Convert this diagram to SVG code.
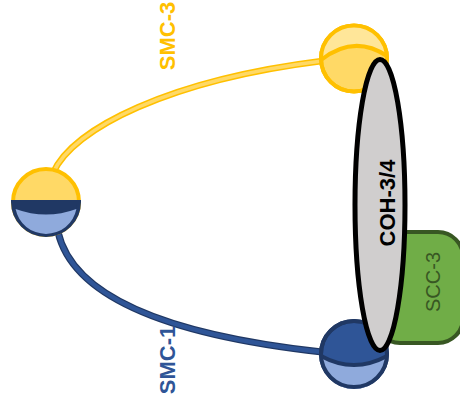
<svg xmlns="http://www.w3.org/2000/svg" width="460" height="407" viewBox="0 0 460 407">
<style>
.lbl{font-family:"Liberation Sans",Arial,sans-serif;font-weight:bold;font-size:22px;text-anchor:middle}
.ylw{fill:#FFD966;stroke:#FFC000;stroke-width:4}
.nav{stroke:#203864;stroke-width:4}
.lb{fill:#8FAADC}
</style>
<rect width="460" height="407" fill="#FFFFFF"/>
<g id="connectors" fill="none" stroke-linecap="round">
  <path d="M53,173 C73,128 170,80 322,61" stroke="#FFC000" stroke-width="6.5"/>
  <path d="M53,173 C73,128 170,80 322,61" stroke="#FFD966" stroke-width="3.5"/>
  <path d="M58,232 C72,293 158,334 322,352" stroke="#203864" stroke-width="7"/>
  <path d="M58,232 C72,293 158,334 322,352" stroke="#2F5597" stroke-width="4.5"/>
</g>
<g id="smc3-head">
  <circle cx="354" cy="58.5" r="33" class="ylw"/>
  <path d="M321,60 Q354,34 387,56 A33,33 0 0 0 321,60 Z" fill="#FFE699"/>
  <path d="M321,60 Q354,34 387,56" fill="none" stroke="#FFC000" stroke-width="4"/>
  <circle cx="354" cy="58.5" r="33" fill="none" stroke="#FFC000" stroke-width="4"/>
</g>
<g id="hinge">
  <circle cx="46" cy="202" r="33" class="ylw"/>
  <path d="M13,202 A33,33 0 0 0 79,202 Z" fill="#203864" class="nav"/>
  <path d="M15.6,209 Q46,220 76.4,209 A31,31 0 0 1 15.6,209 Z" class="lb"/>
</g>
<g id="smc1-head">
  <circle cx="354" cy="354" r="33" fill="#2F5597" class="nav"/>
  <path d="M321,356 Q354,374 387,356 A33,33 0 0 1 321,356 Z" class="lb"/>
  <path d="M321,356 Q354,374 387,356" fill="none" class="nav"/>
  <circle cx="354" cy="354" r="33" fill="none" class="nav"/>
</g>
<g id="scc3">
  <rect x="375" y="232" width="88" height="111" rx="25" ry="25" fill="#70AD47" stroke="#385723" stroke-width="4"/>
  <text transform="translate(440,282) rotate(-90)" font-family="'Liberation Sans',Arial,sans-serif" font-size="20" text-anchor="middle" fill="#385723">SCC-3</text>
</g>
<g id="coh34">
  <ellipse cx="380" cy="205" rx="25" ry="145.5" fill="#D0CECE" stroke="#000000" stroke-width="5"/>
  <text class="lbl" transform="translate(395,203) rotate(-90)" fill="#000000">COH-3/4</text>
</g>
<g id="label-smc3">
  <text class="lbl" transform="translate(175,36) rotate(-90)" fill="#FFC000">SMC-3</text>
</g>
<g id="label-smc1">
  <text class="lbl" transform="translate(175,360) rotate(-90)" fill="#2F5597">SMC-1</text>
</g>
</svg>
